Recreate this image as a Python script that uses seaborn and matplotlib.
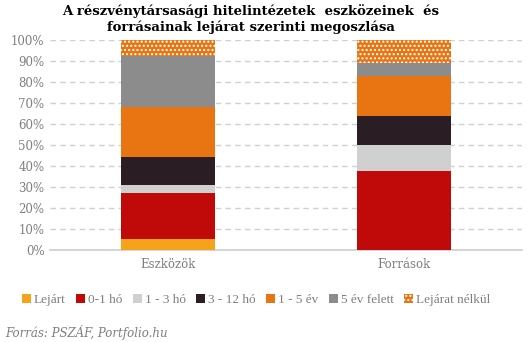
import matplotlib
matplotlib.use("Agg")
import matplotlib.pyplot as plt
import seaborn as sns
import numpy as np
import pandas as pd
from matplotlib.patches import Patch
from matplotlib.ticker import PercentFormatter

categories = ["Eszközök", "Források"]
series = ["Lejárt", "0-1 hó", "1 - 3 hó", "3 - 12 hó", "1 - 5 év", "5 év felett", "Lejárat nélkül"]
values = {
    "Lejárt":         [5.2, 0.0],
    "0-1 hó":         [21.9, 37.6],
    "1 - 3 hó":       [3.9, 12.4],
    "3 - 12 hó":      [13.3, 13.8],
    "1 - 5 év":       [23.6, 19.2],
    "5 év felett":    [24.6, 6.2],
    "Lejárat nélkül": [7.5, 10.8],
}
colors = ["#F5A31A", "#C00A0A", "#D0D0D0", "#2B1D24", "#E87511", "#8C8C8C", "#E87511"]

sns.set_theme(style="white")
plt.rcParams["font.family"] = ["DejaVu Serif"]
plt.rcParams["hatch.linewidth"] = 1.0

fig = plt.figure(figsize=(5.31, 3.42), dpi=100)
ax = fig.add_axes([50/531, 1-250/342, 472/531, 210/342])

df = pd.DataFrame(values, index=categories)
cum = df.cumsum(axis=1)

for i in range(len(series) - 1, -1, -1):
    s = series[i]
    d = pd.DataFrame({"cat": categories, "val": cum[s].values})
    hatch = "...." if s == "Lejárat nélkül" else None
    sns.barplot(data=d, x="cat", y="val", color=colors[i], width=0.4,
                ax=ax, saturation=1, linewidth=0,
                edgecolor="white" if hatch else colors[i], hatch=hatch, zorder=3)

ax.set_ylim(0, 100)
ax.set_xlim(-0.5, 1.5)
ax.set_yticks(np.arange(0, 101, 10))
ax.yaxis.set_major_formatter(PercentFormatter(decimals=0))
ax.set_xlabel("")
ax.set_ylabel("")
ax.grid(axis="y", color="#D0D0D0", linestyle=(0, (4, 3)), linewidth=1, zorder=0)
ax.set_axisbelow(True)
for sp in ["left", "right", "top"]:
    ax.spines[sp].set_visible(False)
ax.spines["bottom"].set_color("#D0D0D0")
ax.tick_params(axis="both", length=0, labelsize=8.5, colors="#7F7F7F", pad=4)
ax.tick_params(axis="x", pad=6)

fig.text(251/531, 1-4/342, "A részvénytársasági hitelintézetek  eszközeinek  és\nforrásainak lejárat szerinti megoszlása",
         ha="center", va="top", fontsize=9.5, fontweight="bold", color="black", linespacing=1.25)

handles = []
for i, s in enumerate(series):
    if s == "Lejárat nélkül":
        handles.append(Patch(facecolor=colors[i], edgecolor="white", hatch="....", linewidth=0))
    else:
        handles.append(Patch(facecolor=colors[i], linewidth=0))
leg = fig.legend(handles, series, loc="center", bbox_to_anchor=(256/531, 1-300/342), ncol=7,
                 frameon=False, prop={"family": ["Liberation Serif"], "size": 9.5},
                 handlelength=0.7, handleheight=0.7,
                 handletextpad=0.2, columnspacing=0.8, labelcolor="#7F7F7F")

fig.text(5/531, 1-332/342, "Forrás: PSZÁF, Portfolio.hu", ha="left", va="center",
         fontsize=8.5, style="italic", color="#7F7F7F")

fig.savefig("out.png", dpi=100)
